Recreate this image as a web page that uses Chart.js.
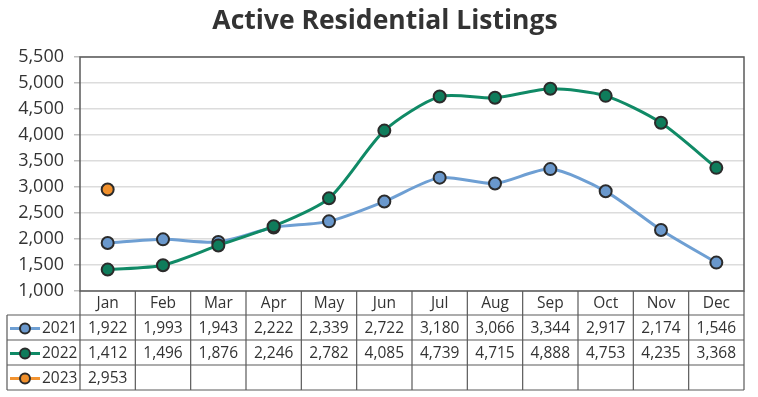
<!DOCTYPE html>
<html>
<head>
<meta charset="utf-8">
<script src="https://cdn.jsdelivr.net/npm/chart.js@4/dist/chart.umd.min.js"></script>
<style>
    html, body { margin: 0; padding: 0; background: #fff; }
    #wrap { width: 758px; height: 397px; }
</style>
</head>
<body>
<div id="wrap"><canvas id="chart" width="758" height="397"></canvas></div>
<script>
/* =========================
   DATA
========================= */

const months = ["Jan", "Feb", "Mar", "Apr", "May", "Jun", "Jul", "Aug", "Sep", "Oct", "Nov", "Dec"];

const listings2021 = [1922, 1993, 1943, 2222, 2339, 2722, 3180, 3066, 3344, 2917, 2174, 1546];
const listings2022 = [1412, 1496, 1876, 2246, 2782, 4085, 4739, 4715, 4888, 4753, 4235, 3368];
const listings2023 = [2953];

const yearLabels = ["2021", "2022", "2023"];

/* =========================
   STYLE
========================= */

const FONT = "'Open Sans', 'Noto Sans', sans-serif";
const TEXT = "#333333";
const FRAME = "#5a5a5a";

const blue = { line: "#6e9fd3", fill: "#6a98cc" };
const green = { line: "#108a66", fill: "#0f7c5b" };
const orange = { line: "#f29330", fill: "#f0902c" };

function series(label, data, c, order) {
    return {
        label,
        data,
        order,
        borderColor: c.line,
        backgroundColor: c.fill,
        borderWidth: 3,
        tension: 0.25,
        pointRadius: 6,
        pointBorderWidth: 2,
        pointBorderColor: "#2b2b2b",
        pointBackgroundColor: c.fill,
        fill: false
    };
}

/* =========================
   TITLE + DATA TABLE PLUGIN
========================= */

const tablePlugin = {
    id: "dataTable",
    afterDraw(chart) {
        const ctx = chart.ctx;
        const area = chart.chartArea;
        const x = chart.scales.x;
        const colW = (area.right - area.left) / months.length;
        const headerH = 24;
        const rowH = 25;
        const legendLeft = 7;

        ctx.save();

        // title
        ctx.fillStyle = TEXT;
        ctx.font = "bold 26.5px " + FONT;
        ctx.textAlign = "center";
        ctx.textBaseline = "middle";
        ctx.fillText("Active Residential Listings", 385, 21);

        // plot frame
        ctx.strokeStyle = FRAME;
        ctx.lineWidth = 1.5;
        ctx.strokeRect(area.left, area.top, area.right - area.left, area.bottom - area.top);

        const headerBottom = area.bottom + headerH;
        const tableBottom = headerBottom + rowH * yearLabels.length;

        // horizontal rules
        ctx.lineWidth = 1.2;
        ctx.beginPath();
        for (let r = 0; r <= yearLabels.length; r++) {
            const y = headerBottom + r * rowH;
            ctx.moveTo(legendLeft, y);
            ctx.lineTo(area.right, y);
        }
        // vertical rules
        for (let i = 0; i <= months.length; i++) {
            const vx = area.left + i * colW;
            ctx.moveTo(vx, area.bottom);
            ctx.lineTo(vx, tableBottom);
        }
        ctx.moveTo(legendLeft, headerBottom);
        ctx.lineTo(legendLeft, tableBottom);
        ctx.stroke();

        // month headers
        ctx.fillStyle = TEXT;
        ctx.font = "15.5px " + FONT;
        ctx.textAlign = "center";
        months.forEach((m, i) => {
            ctx.fillText(m, x.getPixelForValue(i), area.bottom + headerH / 2 + 1);
        });

        // rows
        chart.data.datasets.forEach((ds, r) => {
            const cy = headerBottom + r * rowH + rowH / 2 + 1;

            // legend sample
            ctx.strokeStyle = ds.borderColor;
            ctx.lineWidth = 3;
            ctx.beginPath();
            ctx.moveTo(10, cy);
            ctx.lineTo(40, cy);
            ctx.stroke();
            ctx.beginPath();
            ctx.arc(25, cy, 5, 0, Math.PI * 2);
            ctx.fillStyle = ds.pointBackgroundColor;
            ctx.fill();
            ctx.strokeStyle = "#2b2b2b";
            ctx.lineWidth = 2;
            ctx.stroke();

            ctx.fillStyle = TEXT;
            ctx.font = "15.5px " + FONT;
            ctx.textAlign = "left";
            ctx.fillText(ds.label, 42, cy);

            ctx.textAlign = "center";
            ds.data.forEach((v, i) => {
                if (v == null) return;
                ctx.fillText(v.toLocaleString("en-US"), x.getPixelForValue(i), cy);
            });
        });

        ctx.restore();
    }
};

/* =========================
   CHART
========================= */

new Chart(document.getElementById("chart"), {
    type: "line",
    data: {
        labels: months,
        datasets: [
            series(yearLabels[0], listings2021, blue, 2),
            series(yearLabels[1], listings2022, green, 1),
            series(yearLabels[2], listings2023, orange, 0)
        ]
    },
    options: {
        responsive: false,
        animation: false,
        layout: {
            padding: { top: 57, right: 14, bottom: 106, left: 0 }
        },
        plugins: {
            legend: { display: false },
            tooltip: { enabled: false },
            title: { display: false }
        },
        scales: {
            x: {
                type: "category",
                offset: true,
                display: false
            },
            y: {
                min: 1000,
                max: 5500,
                afterFit(scale) { scale.width = 80; },
                ticks: {
                    stepSize: 500,
                    padding: 10,
                    color: TEXT,
                    font: { family: FONT, size: 18 },
                    callback: v => v.toLocaleString("en-US")
                },
                grid: {
                    color: "#dcdcdc",
                    lineWidth: 1.5,
                    tickLength: 6,
                    tickColor: "#bdbdbd"
                },
                border: { display: false }
            }
        }
    },
    plugins: [tablePlugin]
});
</script>
</body>
</html>
